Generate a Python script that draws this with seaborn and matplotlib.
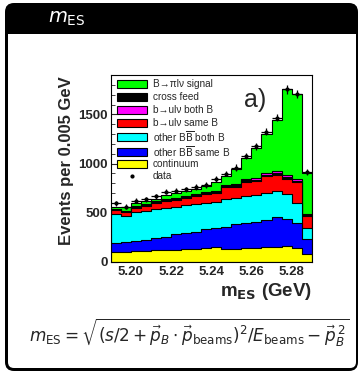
import numpy as np
import pandas as pd
import matplotlib
matplotlib.use("Agg")
import matplotlib.pyplot as plt
import seaborn as sns
from matplotlib.patches import FancyBboxPatch, Rectangle

# bins: 20 x 0.005 GeV from 5.19 to 5.29
edges = [round(5.19 + 0.005 * i, 4) for i in range(21)]
centers = [round(5.1925 + 0.005 * i, 4) for i in range(20)]

# components, bottom of stack first
continuum = [98, 105, 112, 115, 118, 120, 125, 130, 132, 140, 148, 135, 135, 138, 145, 150, 155, 160, 140, 85]
other_same = [91, 94, 101, 108, 122, 137, 155, 164, 176, 191, 200, 223, 247, 254, 264, 276, 305, 276, 252, 145]
other_both = [298, 271, 291, 291, 297, 291, 281, 281, 280, 267, 264, 284, 270, 274, 270, 274, 257, 250, 203, 115]
bulv_same = [37, 34, 44, 57, 65, 71, 68, 71, 81, 92, 84, 115, 112, 149, 142, 172, 172, 162, 213, 125]
cross_feed = [8, 8, 9, 9, 10, 10, 11, 11, 12, 12, 13, 13, 14, 15, 15, 16, 17, 17, 16, 8]
bulv_both = [10, 10, 11, 11, 12, 12, 13, 13, 14, 14, 15, 15, 16, 17, 17, 18, 18, 18, 17, 8]
signal = [19, 33, 27, 24, 21, 39, 52, 50, 45, 59, 91, 85, 156, 213, 307, 394, 516, 871, 863, 414]

data = [595, 561, 622, 639, 669, 713, 723, 737, 764, 781, 842, 899, 960, 1075, 1176, 1322, 1467, 1754, 1704, 916]
data_err = [25, 24, 25, 25, 26, 27, 27, 27, 28, 28, 29, 30, 31, 33, 34, 36, 38, 42, 41, 30]

layers = [
    ("continuum", continuum, "#ffff00"),
    ("other B$\\overline{\\mathrm{B}}$ same B", other_same, "#0000ff"),
    ("other B$\\overline{\\mathrm{B}}$ both B", other_both, "#00ffff"),
    ("b→ulν same B", bulv_same, "#ff0000"),
    ("cross feed", cross_feed, "#000000"),
    ("b→ulν both B", bulv_both, "#ff00ff"),
    ("B→πlν signal", signal, "#00ff00"),
]
legend_order = ["B→πlν signal", "cross feed", "b→ulν both B", "b→ulν same B",
                "other B$\\overline{\\mathrm{B}}$ both B",
                "other B$\\overline{\\mathrm{B}}$ same B", "continuum"]

sns.set_theme(style="white")
plt.rcParams["font.family"] = ["Liberation Sans", "DejaVu Sans"]
plt.rcParams["mathtext.fontset"] = "dejavusans"

fig = plt.figure(figsize=(3.61, 3.73), dpi=100)

# beamer block frame
bg = fig.add_axes([0, 0, 1, 1], zorder=0)
bg.set_xlim(0, 361)
bg.set_ylim(373, 0)
bg.axis("off")
bg.add_patch(FancyBboxPatch((5, 3), 353, 368, boxstyle="round,pad=0,rounding_size=9",
                            fc="black", ec="none"))
bg.add_patch(FancyBboxPatch((8, 34), 348, 334, boxstyle="round,pad=0,rounding_size=6",
                            fc="white", ec="none"))
bg.add_patch(Rectangle((8, 34), 348, 12, fc="white", ec="none"))
bg.text(48, 19, r"$m_{\mathrm{ES}}$", color="white", fontsize=14, va="center", ha="left")
bg.text(189, 333,
        r"$m_{\mathrm{ES}} = \sqrt{(s/2 + \vec{p}_B \cdot \vec{p}_{\mathrm{beams}})^2/E_{\mathrm{beams}} - \vec{p}_B^{\,2}}$",
        fontsize=12.2, ha="center", va="center")

AX_L, AX_B, AX_W, AX_H = 110.7, 262, 201, 187
ax = fig.add_axes([AX_L / 361, (373 - AX_B) / 373, AX_W / 361, AX_H / 373], zorder=1)

cum = np.cumsum([l[1] for l in layers], axis=0)
# draw from the top of the stack downward
for (name, vals, col), tot in reversed(list(zip(layers, cum))):
    df = pd.DataFrame({"mes": centers, "n": tot})
    sns.histplot(data=df, x="mes", weights="n", bins=edges, element="step", fill=True,
                 color=col, alpha=1, edgecolor="black", linewidth=0.8, ax=ax)

ax.errorbar(centers, data, yerr=data_err, xerr=0.0025, fmt="o", ms=2,
            color="black", elinewidth=0.9, capsize=0, zorder=5)

ax.set_xlim(5.19, 5.29)
ax.set_ylim(0, 1900)
ax.set_xticks([5.20, 5.22, 5.24, 5.26, 5.28])
ax.set_xticklabels(["5.20", "5.22", "5.24", "5.26", "5.28"])
ax.set_xticks(edges, minor=True)
ax.set_yticks([0, 500, 1000, 1500])
ax.set_yticks(np.arange(0, 1901, 100), minor=True)
ax.tick_params(which="both", direction="in", left=True, bottom=True, labelsize=9.5)
ax.tick_params(which="major", length=5, width=0.8)
ax.tick_params(which="minor", length=2.8, width=0.6)
ax.tick_params(axis="y", pad=2)
ax.tick_params(axis="x", pad=3)
for lab in ax.get_xticklabels() + ax.get_yticklabels():
    lab.set_fontweight("bold")
for sp in ax.spines.values():
    sp.set_color("black")
    sp.set_linewidth(0.8)
ax.set_xlabel("")
ax.set_ylabel("")

fig.text(67 / 361, 1 - 161 / 373, "Events per 0.005 GeV", rotation=90, fontsize=12,
         fontweight="bold", ha="center", va="center")
fig.text(312 / 361, 1 - 291 / 373, r"m$_{\mathbf{ES}}$ (GeV)", fontsize=13.5,
         fontweight="bold", ha="right", va="center")


def axfrac(px, py):
    return (px - AX_L) / AX_W, (AX_B - py) / AX_H


ax.text(*axfrac(244, 100), "a)", transform=ax.transAxes, fontsize=18, ha="left", va="center")

# legend drawn row by row (ROOT style)
colors = {l[0]: l[2] for l in layers}
row_y = [84, 97, 110, 122.5, 137, 151.5, 164, 176]
for lab, py in zip(legend_order + ["data"], row_y):
    if lab == "data":
        ax.plot(*axfrac(132, py), "o", ms=2, color="black", transform=ax.transAxes,
                clip_on=False, zorder=6)
    else:
        x0, y0 = axfrac(117, py + 4)
        ax.add_patch(Rectangle((x0, y0), 30 / AX_W, 8 / AX_H, transform=ax.transAxes,
                               fc=colors[lab], ec="black", lw=0.8, zorder=6))
    ax.text(*axfrac(153, py), lab, transform=ax.transAxes, fontsize=7.2,
            ha="left", va="center", zorder=6)

fig.savefig("out.png", dpi=100)
